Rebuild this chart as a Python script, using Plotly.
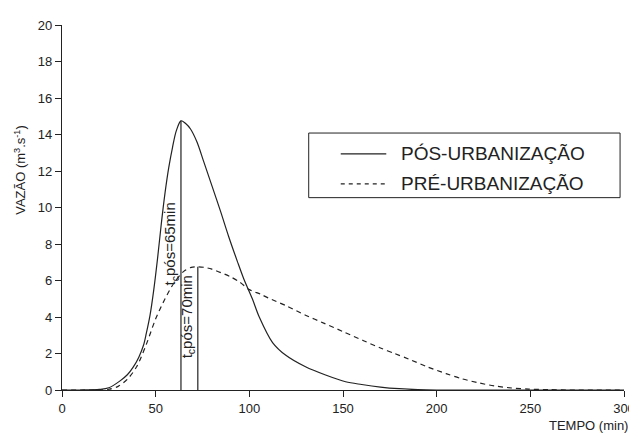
import plotly.graph_objects as go

# Data
t_pos = [0, 10, 20, 25, 31, 35, 38, 41, 43.5, 45, 47, 49, 51, 53, 55, 57, 59, 61, 63.5, 66, 68.6, 72, 75.7, 80, 84.6, 89, 93.6, 97, 101.6, 105.3, 112.4, 119.5, 130, 140.7, 151.4, 160, 170, 180, 190, 200, 300]
q_pos = [0, 0, 0.03, 0.12, 0.5, 0.85, 1.25, 1.8, 2.45, 3.1, 4.1, 5.5, 7.2, 9.1, 10.8, 12.2, 13.3, 14.2, 14.75, 14.6, 14.3, 13.6, 12.5, 11.2, 9.8, 8.4, 7.05, 6.1, 5.0, 4.0, 2.6, 1.9, 1.27, 0.82, 0.45, 0.3, 0.16, 0.07, 0.02, 0, 0]

t_pre = [0, 10, 20, 25, 30, 35, 40, 45, 50, 55, 60, 65, 69, 72.5, 76, 80, 90, 95, 100, 106, 110, 120, 130, 140, 150, 161, 170, 177.5, 185, 195, 205, 213, 222, 231, 240, 249, 260, 270, 300]
q_pre = [0, 0, 0, 0.04, 0.2, 0.6, 1.3, 2.5, 3.9, 5.0, 5.9, 6.5, 6.72, 6.75, 6.72, 6.62, 6.2, 5.9, 5.5, 5.25, 5.05, 4.6, 4.1, 3.65, 3.2, 2.7, 2.3, 2.0, 1.7, 1.27, 0.9, 0.63, 0.4, 0.22, 0.11, 0.05, 0.02, 0, 0]

tc_pos = 63.5
peak_pos = 14.75
tc_pre = 72.5
peak_pre = 6.75

series_names = ["PÓS-URBANIZAÇÃO", "PRÉ-URBANIZAÇÃO"]
tc_labels = ["t<sub>c</sub>pós=65min", "t<sub>c</sub>pós=70min"]
x_ticks = [0, 50, 100, 150, 200, 250, 300]
y_ticks = [0, 2, 4, 6, 8, 10, 12, 14, 16, 18, 20]

ink = "#222222"
font_family = "Liberation Sans, Arial, sans-serif"

fig = go.Figure()
fig.add_trace(go.Scatter(x=t_pos, y=q_pos, mode="lines",
                         line=dict(color=ink, width=1.2, shape="spline", smoothing=0.9), name=series_names[0]))
fig.add_trace(go.Scatter(x=t_pre, y=q_pre, mode="lines",
                         line=dict(color=ink, width=1.2, dash="5px,4px", shape="spline", smoothing=0.8), name=series_names[1]))

# vertical lines at the time of concentration
fig.add_trace(go.Scatter(x=[tc_pos, tc_pos], y=[0, peak_pos], mode="lines", line=dict(color=ink, width=1.2), showlegend=False))
fig.add_trace(go.Scatter(x=[tc_pre, tc_pre], y=[0, peak_pre], mode="lines", line=dict(color=ink, width=1.2), showlegend=False))

fig.add_annotation(x=tc_pos, y=8.0, xref="x", yref="y", text=tc_labels[0], textangle=-90,
                   showarrow=False, xanchor="right", xshift=1, font=dict(size=15, color=ink, family=font_family))
fig.add_annotation(x=tc_pre, y=4.0, xref="x", yref="y", text=tc_labels[1], textangle=-90,
                   showarrow=False, xanchor="right", xshift=1, font=dict(size=15, color=ink, family=font_family))

# legend box
fig.add_shape(type="rect", xref="paper", yref="paper", x0=0.439, x1=0.993, y0=0.527, y1=0.704,
              line=dict(color=ink, width=1), fillcolor="white", layer="above")
fig.add_shape(type="line", xref="paper", yref="paper", x0=0.496, x1=0.577, y0=0.647, y1=0.647,
              line=dict(color=ink, width=1.2))
fig.add_shape(type="line", xref="paper", yref="paper", x0=0.496, x1=0.577, y0=0.565, y1=0.565,
              line=dict(color=ink, width=1.2, dash="4px,4px"))
fig.add_annotation(x=0.600, y=0.647, xref="paper", yref="paper", text=series_names[0], showarrow=False,
                   xanchor="left", yanchor="middle", font=dict(size=19, color=ink, family=font_family))
fig.add_annotation(x=0.600, y=0.565, xref="paper", yref="paper", text=series_names[1], showarrow=False,
                   xanchor="left", yanchor="middle", font=dict(size=19, color=ink, family=font_family))

# axis titles
fig.add_annotation(x=1.011, y=-0.098, xref="paper", yref="paper", text="TEMPO (min)", showarrow=False,
                   xanchor="right", yanchor="middle", font=dict(size=13, color=ink, family=font_family))
fig.add_annotation(x=-0.075, y=0.603, xref="paper", yref="paper", text="VAZÃO (m<sup>3</sup>.s<sup>-1</sup>)",
                   textangle=-90, showarrow=False, xanchor="center", yanchor="middle",
                   font=dict(size=13, color=ink, family=font_family))

fig.update_layout(
    width=637, height=426,
    margin=dict(l=54, r=15, t=10, b=44),
    paper_bgcolor="white", plot_bgcolor="white",
    showlegend=False,
    font=dict(family=font_family, size=13, color=ink),
    xaxis=dict(range=[0, 300], tickvals=x_ticks, showgrid=False, zeroline=False, showline=True,
               linecolor=ink, linewidth=1.2, ticks="outside", ticklen=6, tickcolor=ink,
               tickfont=dict(size=13)),
    yaxis=dict(range=[0, 20], tickvals=y_ticks, showgrid=False, zeroline=False, showline=True,
               linecolor=ink, linewidth=1.2, ticks="outside", ticklen=6, tickcolor=ink,
               tickfont=dict(size=13)),
)

fig.write_html("out.html")
